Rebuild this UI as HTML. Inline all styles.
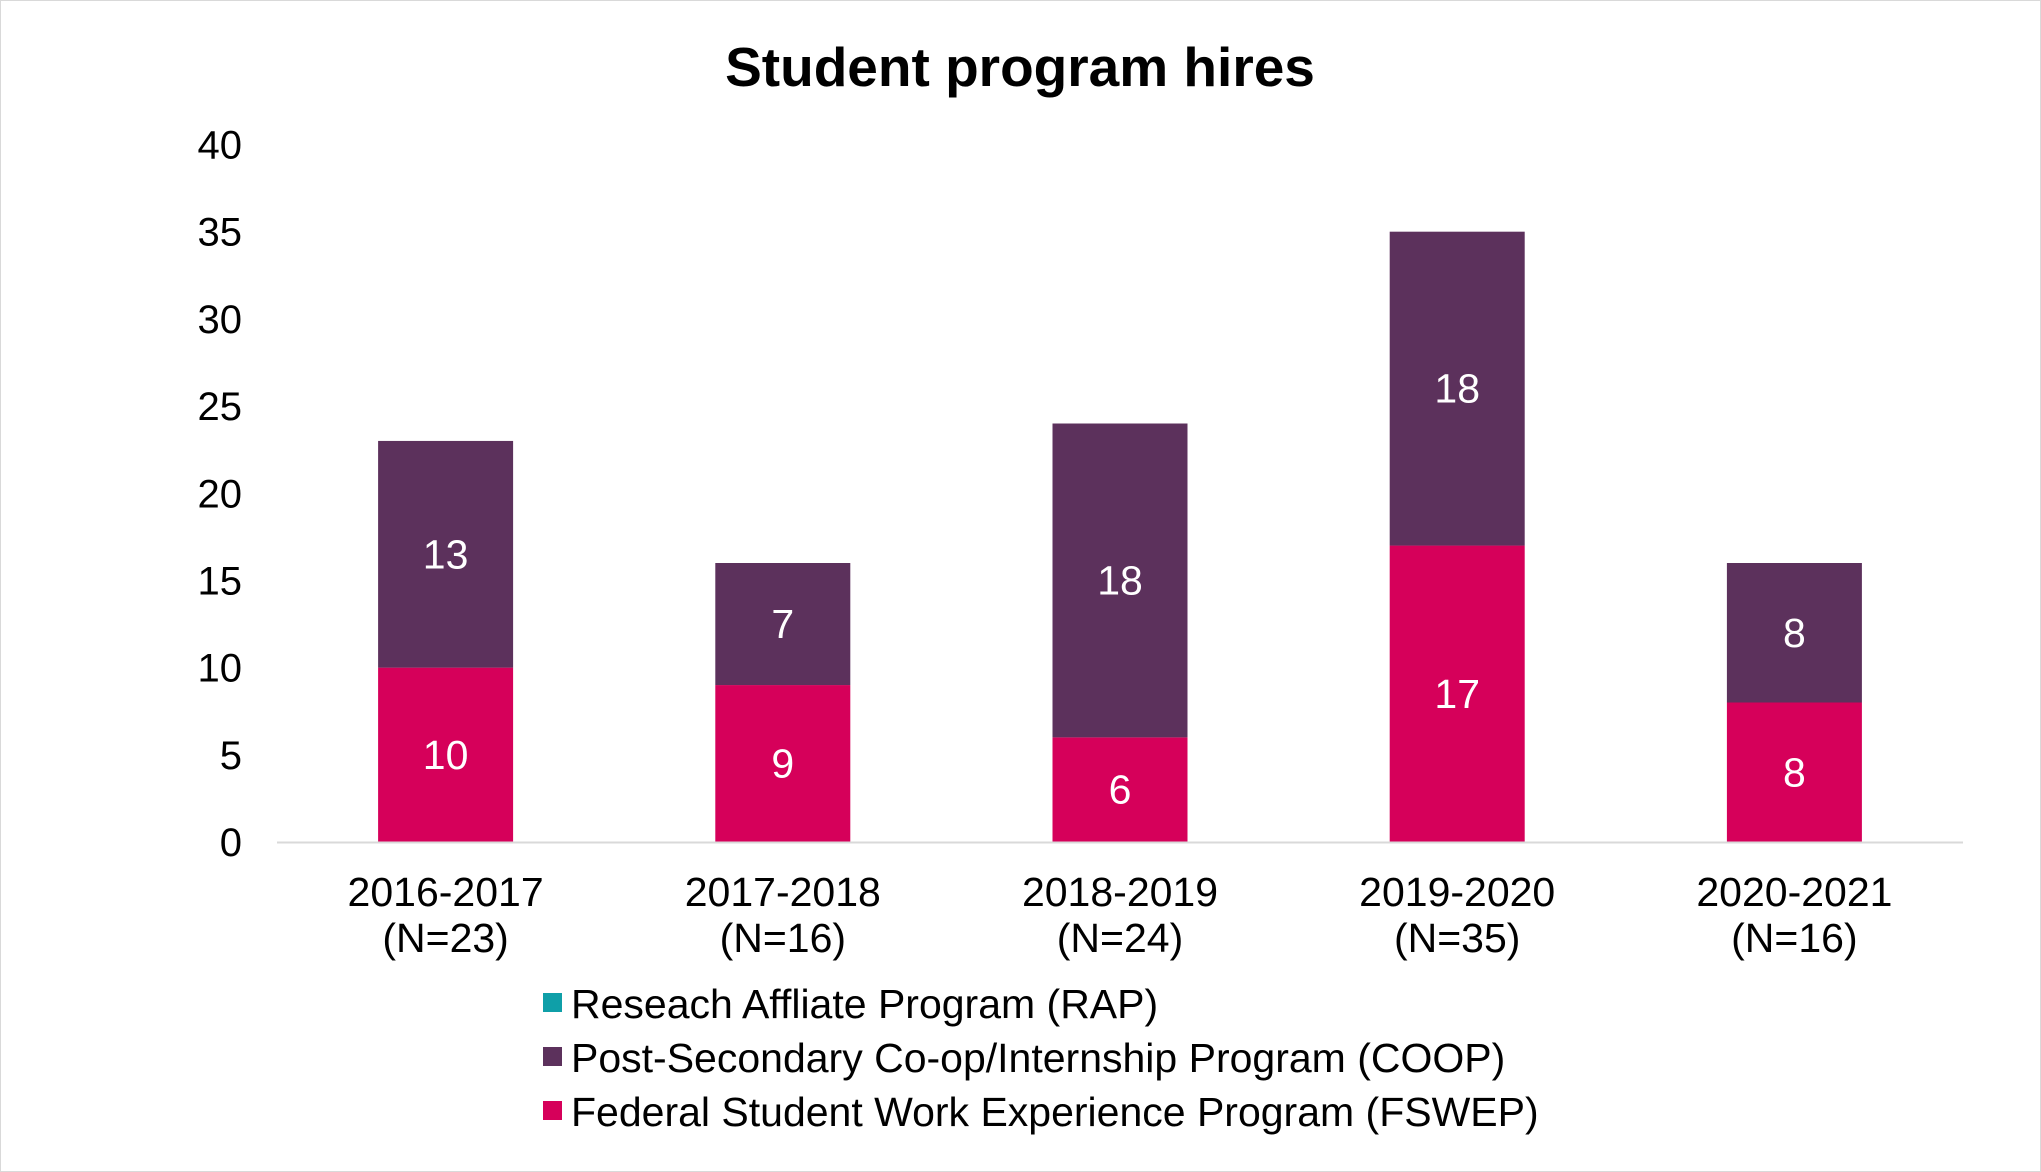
<!DOCTYPE html>
<html><head><meta charset="utf-8"><style>
html,body{margin:0;padding:0;background:#fff}
svg{display:block;font-family:"Liberation Sans",Arial,sans-serif}
</style></head><body>
<svg id="chart" width="2041" height="1172" viewBox="0 0 2041 1172">
<rect x="0.5" y="0.5" width="2040" height="1171" fill="#fff" stroke="#d9d9d9"/>
<text x="1020" y="86" text-anchor="middle" font-size="55" font-weight="bold" fill="#000">Student program hires</text>
<g id="yaxis"></g><g id="bars"></g><g id="xaxis"></g>
<g id="legend"></g>
</svg>
<script>
const categories = ["2016-2017","2017-2018","2018-2019","2019-2020","2020-2021"];
const nLabels = ["(N=23)","(N=16)","(N=24)","(N=35)","(N=16)"];
const fswep = [10,9,6,17,8];
const coop = [13,7,18,18,8];
const rap = [0,0,0,0,0];
const yTicks = [0,5,10,15,20,25,30,35,40];
const legendLabels = ["Reseach Affliate Program (RAP)","Post-Secondary Co-op/Internship Program (COOP)","Federal Student Work Experience Program (FSWEP)"];

const NS="http://www.w3.org/2000/svg";
const x0=277,x1=1963,yBase=842,yTop=144.5,yMax=40;
const y=v=>yBase-(yBase-yTop)*v/yMax;
const band=(x1-x0)/categories.length;
const xc=i=>x0+band*(i+0.5);
const bw=135;
function mk(t,a,p){const e=document.createElementNS(NS,t);for(const k in a)e.setAttribute(k,a[k]);p.appendChild(e);return e;}
const ya=document.getElementById('yaxis');
yTicks.forEach(t=>{
  const e=mk('text',{x:242,y:y(t)+14,'text-anchor':'end','font-size':40,fill:'#000'},ya);
  
  
  e.textContent=t;
});
const bg=document.getElementById('bars');
categories.forEach((c,i)=>{
  const segs=[[fswep[i],'#d6005a','fswep'],[coop[i],'#5c315c','coop'],[rap[i],'#0f9fa8','rap']];
  let acc=0;
  segs.forEach(([v,col,nm])=>{
    if(v<=0)return;
    const r=mk('rect',{x:xc(i)-bw/2,y:y(acc+v),width:bw,height:y(acc)-y(acc+v),fill:col},bg);
    
    
    const t=mk('text',{x:xc(i),y:(y(acc)+y(acc+v))/2+14,'text-anchor':'middle','font-size':41,fill:'#fff'},bg);
    
    
    t.textContent=v;
    acc+=v;
  });
});
const xa=document.getElementById('xaxis');
const ax=mk('line',{x1:x0,x2:x1,y1:yBase+0.5,y2:yBase+0.5,stroke:'#d9d9d9','stroke-width':2},xa);


categories.forEach((c,i)=>{
  const t=mk('text',{x:xc(i),y:906,'text-anchor':'middle','font-size':41,fill:'#000'},xa);
  
  
  t.textContent=c;
  const t2=mk('text',{x:xc(i),y:952,'text-anchor':'middle','font-size':41,fill:'#000'},xa);
  
  
  t2.textContent=nLabels[i];
});
const lg=document.getElementById('legend');
const lcol=['#0f9fa8','#5c315c','#d6005a'];
legendLabels.forEach((l,i)=>{
  const cy=1003+i*54;
  const r=mk('rect',{x:543,y:cy-10,width:19,height:19,fill:lcol[i]},lg);
  
  
  const t=mk('text',{x:571,y:cy+15,'font-size':41,fill:'#000'},lg);
  
  
  t.textContent=l;
});
</script>
</body></html>
